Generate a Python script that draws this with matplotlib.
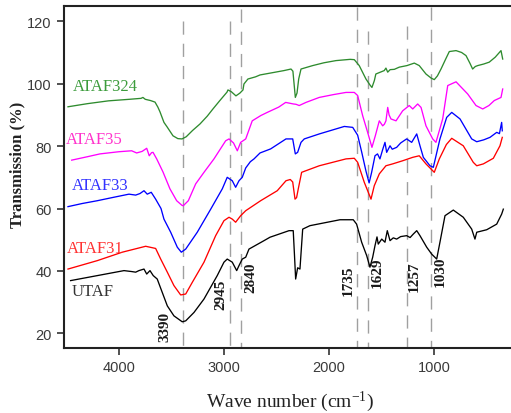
import matplotlib
matplotlib.use("Agg")
import matplotlib.pyplot as plt

plt.rcParams["mathtext.fontset"] = "custom"
plt.rcParams["mathtext.rm"] = "Liberation Serif"
plt.rcParams["mathtext.it"] = "Liberation Serif:italic"
plt.rcParams["lines.scale_dashes"] = False

# ---- FTIR spectra: wave number (cm-1) and transmission (%) ----
utaf_wn = [4460, 4206, 3952, 3880, 3841, 3810, 3762, 3736, 3705, 3674, 3636, 3588, 3540, 3477,
           3398, 3365, 3286, 3191, 3065, 3001, 2970, 2922, 2880, 2858, 2827, 2794, 2763, 2620,
           2563, 2382, 2342, 2330, 2319, 2300, 2278, 2252, 2183, 1897, 1771, 1739, 1691, 1643,
           1612, 1586, 1564, 1545, 1533, 1500, 1469, 1447, 1421, 1390, 1358, 1320, 1263, 1230,
           1200, 1167, 1136, 1072, 1025, 977, 946, 898, 819, 724, 644, 613, 596, 501, 406, 359, 343]
utaf_t = [36.9, 38.5, 40.1, 39.8, 39.6, 40.1, 40.6, 39.0, 40.1, 38.5, 37.4, 33.1, 28.8, 25.6,
          23.7, 24.0, 26.7, 31.0, 38.5, 42.8, 43.8, 42.8, 40.1, 41.7, 43.8, 44.4, 47.0, 49.7,
          50.8, 52.9, 52.9, 45.0, 37.4, 41.0, 40.6, 53.4, 54.5, 56.4, 56.4, 55.0, 49.2, 44.9,
          41.2, 44.4, 48.1, 50.9, 48.6, 50.2, 49.2, 52.9, 49.7, 50.6, 50.2, 51.0, 51.3, 50.7,
          51.8, 52.9, 51.3, 47.6, 45.4, 43.8, 49.2, 57.7, 59.5, 57.2, 53.4, 50.2, 52.4, 53.2, 55.0, 58.2, 59.8]

ataf31_wn = [4485, 4206, 3969, 3746, 3651, 3603, 3540, 3477, 3413, 3365, 3303, 3191, 3080, 3001,
             2953, 2922, 2890, 2842, 2794, 2652, 2494, 2411, 2370, 2347, 2325, 2310, 2294, 2262,
             2094, 1840, 1761, 1729, 1666, 1602, 1571, 1523, 1460, 1396, 1301, 1205, 1143, 1079,
             1000, 952, 885, 834, 724, 629, 596, 533, 438, 375, 353]
ataf31_t = [40.6, 43.3, 46.0, 47.9, 47.2, 43.8, 39.6, 35.3, 32.3, 32.6, 36.3, 42.8, 51.3, 56.1,
            57.2, 56.6, 55.6, 57.7, 59.3, 62.5, 65.7, 68.9, 69.3, 68.5, 63.0, 63.5, 66.3, 71.6,
            73.7, 75.9, 76.1, 74.8, 68.4, 63.0, 67.3, 71.1, 73.7, 74.3, 75.3, 76.4, 76.9, 74.3,
            71.6, 75.9, 80.5, 82.5, 80.1, 74.8, 73.7, 74.3, 76.1, 80.1, 82.8]

ataf33_wn = [4485, 4350, 4206, 4050, 3905, 3841, 3800, 3762, 3731, 3693, 3651, 3600, 3572, 3508,
             3445, 3407, 3365, 3255, 3127, 3017, 2970, 2922, 2890, 2858, 2827, 2794, 2750, 2715,
             2658, 2557, 2411, 2347, 2330, 2322, 2300, 2268, 2237, 2094, 1856, 1776, 1729, 1690,
             1650, 1620, 1596, 1564, 1540, 1517, 1490, 1469, 1453, 1421, 1400, 1358, 1320, 1263,
             1215, 1167, 1136, 1104, 1041, 1009, 946, 882, 834, 755, 644, 596, 530, 470, 406, 380, 359, 353]
ataf33_t = [60.6, 61.6, 62.5, 63.6, 64.6, 64.3, 64.8, 65.7, 64.6, 65.2, 63.0, 60.0, 56.6, 52.4,
            47.6, 46.0, 47.0, 52.4, 59.8, 66.3, 70.0, 68.9, 66.8, 68.9, 70.0, 73.0, 75.0, 75.9,
            77.8, 79.1, 82.3, 82.3, 79.0, 77.5, 78.0, 81.2, 82.3, 83.9, 86.3, 86.0, 83.5, 78.0,
            72.0, 68.2, 71.6, 76.9, 77.5, 75.9, 79.0, 81.2, 78.0, 80.1, 79.0, 79.6, 81.0, 82.3,
            81.2, 83.9, 80.1, 76.4, 73.7, 73.2, 82.3, 89.2, 90.8, 88.7, 82.3, 81.4, 82.0, 82.8, 84.4, 84.0, 87.6, 84.9]

ataf35_wn = [4450, 4300, 4181, 4000, 3879, 3832, 3780, 3736, 3712, 3690, 3676, 3641, 3581, 3515,
             3451, 3400, 3388, 3340, 3270, 3191, 3096, 2985, 2953, 2910, 2874, 2842, 2794, 2732,
             2650, 2589, 2480, 2414, 2340, 2316, 2285, 2221, 2094, 1960, 1840, 1761, 1729, 1681,
             1634, 1593, 1561, 1523, 1491, 1475, 1460, 1443, 1430, 1412, 1364, 1301, 1238, 1205,
             1158, 1126, 1079, 1015, 984, 920, 872, 793, 682, 603, 539, 480, 429, 365, 349]
ataf35_t = [75.5, 76.6, 77.5, 78.2, 78.5, 77.8, 78.3, 79.3, 76.9, 77.9, 78.0, 75.9, 71.7, 66.3,
            62.5, 61.0, 60.9, 62.5, 67.9, 71.6, 75.9, 81.7, 82.3, 81.0, 78.5, 81.2, 82.3, 88.1,
            89.8, 90.8, 92.5, 94.0, 93.5, 93.4, 93.0, 94.0, 95.6, 96.5, 97.2, 97.2, 96.2, 89.7,
            84.4, 79.6, 83.3, 88.1, 86.5, 87.0, 88.1, 92.4, 90.0, 88.7, 88.1, 91.3, 93.0, 91.9,
            93.5, 92.4, 86.5, 82.3, 81.2, 88.7, 99.4, 100.6, 96.7, 93.0, 91.9, 93.0, 94.6, 95.6, 98.3]

ataf324_wn = [4485, 4300, 4100, 3900, 3790, 3772, 3750, 3700, 3657, 3630, 3610, 3572, 3543, 3486,
              3440, 3400, 3360, 3300, 3229, 3160, 3106, 3040, 2972, 2963, 2930, 2887, 2849, 2820,
              2811, 2773, 2700, 2658, 2560, 2430, 2363, 2345, 2322, 2306, 2290, 2268, 2157, 2050,
              1935, 1800, 1761, 1714, 1650, 1610, 1593, 1570, 1556, 1520, 1476, 1460, 1443, 1420,
              1380, 1333, 1260, 1190, 1143, 1079, 1030, 1000, 970, 936, 890, 857, 793, 740, 698,
              660, 635, 610, 587, 530, 477, 420, 365, 349]
ataf324_t = [92.6, 93.6, 94.5, 95.0, 95.3, 95.6, 95.0, 94.6, 94.1, 92.5, 91.0, 87.6, 86.2, 83.3,
             82.4, 82.3, 83.0, 85.0, 87.1, 89.6, 91.9, 94.6, 97.3, 98.0, 97.4, 96.1, 97.0, 98.0,
             99.9, 101.5, 102.2, 102.8, 103.4, 104.2, 104.7, 104.0, 95.6, 97.0, 101.5, 104.7, 105.8, 106.7,
             107.4, 107.8, 107.7, 105.8, 101.5, 99.5, 98.8, 101.0, 103.1, 103.6, 104.2, 105.0, 103.7, 104.5,
             104.6, 105.3, 105.8, 106.6, 105.8, 103.1, 101.8, 101.3, 102.5, 104.7, 108.0, 110.3, 110.6, 110.0, 109.0,
             106.5, 104.7, 105.5, 105.8, 106.3, 106.9, 108.5, 110.6, 107.9]

series_names = ["UTAF", "ATAF31", "ATAF33", "ATAF35", "ATAF324"]

# ---- band assignments marked by dashed guides ----
band_wn = [3390, 2945, 2840, 1735, 1629, 1257, 1030]
band_labels = ["3390", "2945", "2840", "1735", "1629", "1257", "1030"]

# ---- drawing ----
fig = plt.figure(figsize=(5.11, 4.14), dpi=100)
ax = fig.add_axes([64 / 511, 65 / 414, 1 - 64 / 511, 341.7 / 414])

series = [
    (utaf_wn, utaf_t, "#000000", "#333333", (4447, 33.6)),
    (ataf31_wn, ataf31_t, "#ff0000", "#ff3333", (4495, 47.3)),
    (ataf33_wn, ataf33_t, "#0000ff", "#3333ff", (4447, 67.5)),
    (ataf35_wn, ataf35_t, "#ff00ff", "#ff33cc", (4504, 82.3)),
    (ataf324_wn, ataf324_t, "#2e8b2e", "#3c9c3c", (4438, 99.2)),
]
serif = "Liberation Serif"
for name, (wn, t, lc, tc, (lx, ly)) in zip(series_names, series):
    ax.plot(wn, t, color=lc, lw=0.95, zorder=3)
    ax.text(lx, ly, name, color=tc, fontsize=12, family=serif,
            ha="left", va="center", zorder=4)

# dashed guides and rotated band labels
guide_top = [120, 120, 124, 124.5, 117, 118.5, 124.5]
label_shift = [174, 86, -95, 79, -86, -69, -83]
label_y = [22.3, 32.6, 38.1, 37.1, 39.7, 38.4, 40.0]
for x, lab, top, dx, ly in zip(band_wn, band_labels, guide_top, label_shift, label_y):
    ax.plot([x, x], [top, 15.3], color="#a0a0a0", lw=1.0,
            ls=(0, (9.5, 6.5)), zorder=2)
    ax.text(x + dx, ly, lab, rotation=90, fontsize=11, family=serif,
            fontweight="bold", color="#1a1a1a", ha="center", va="center", zorder=5)

ax.set_xlim(4523, 270)
ax.set_ylim(15.3, 124.8)
ax.set_xticks([4000, 3000, 2000, 1000])
ax.set_yticks([20, 40, 60, 80, 100, 120])
ax.tick_params(direction="out", length=5, width=1.1, color="#222222",
               labelsize=10.5, labelcolor="#3a3a3a", pad=4)
for lab in ax.get_xticklabels() + ax.get_yticklabels():
    lab.set_family("Liberation Sans")

for side in ("left", "bottom", "top"):
    ax.spines[side].set_linewidth(1.5)
    ax.spines[side].set_color("#222222")
ax.spines["right"].set_visible(False)

fig.text(17 / 511, 1 - 165 / 414, "Transmission (%)", rotation=90,
         fontsize=12, family=serif, fontweight="bold", color="#222222",
         ha="center", va="center")
fig.text(290 / 511, 1 - 402 / 414, r"Wave number (cm$^{\mathregular{-1}}$)",
         fontsize=14, family=serif, color="#222222", ha="center", va="center")

fig.savefig("out.png", dpi=100)
